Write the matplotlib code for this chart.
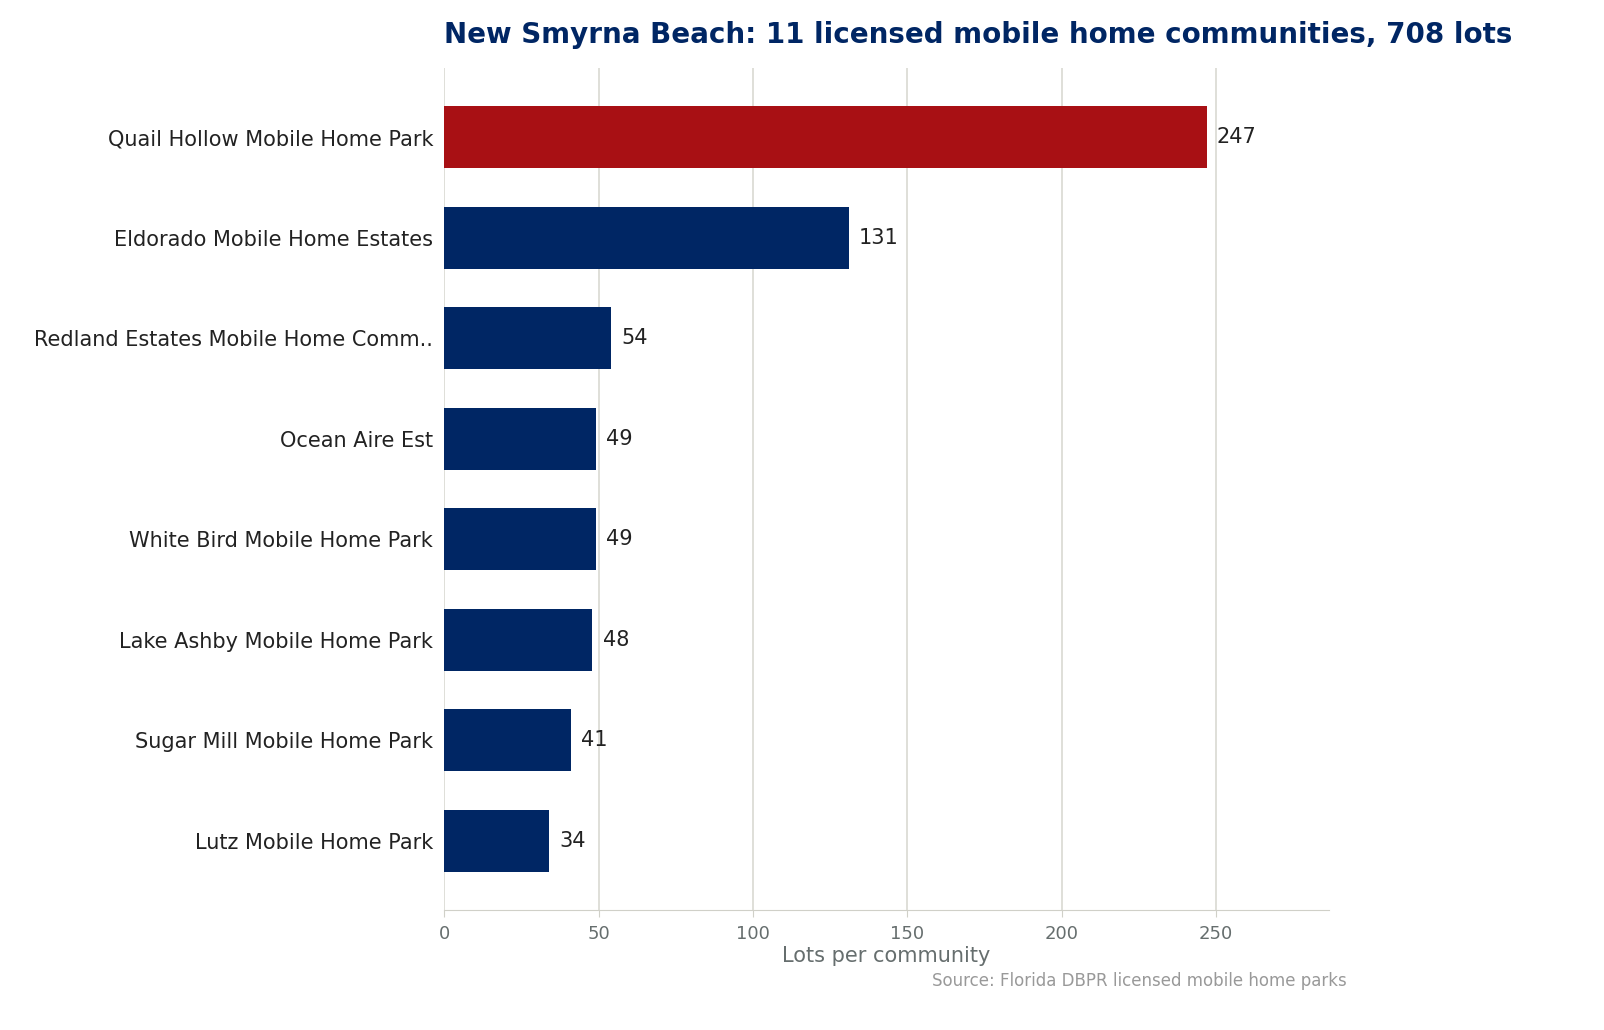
import matplotlib
matplotlib.use("Agg")
import matplotlib.pyplot as plt

names = ["Quail Hollow Mobile Home Park", "Eldorado Mobile Home Estates",
         "Redland Estates Mobile Home Comm..", "Ocean Aire Est",
         "White Bird Mobile Home Park", "Lake Ashby Mobile Home Park",
         "Sugar Mill Mobile Home Park", "Lutz Mobile Home Park"]
lots = [247, 131, 54, 49, 49, 48, 41, 34]
xticks = [0, 50, 100, 150, 200, 250]

navy = "#002664"
red = "#A81014"

fig = plt.figure(figsize=(16.04, 10.30), dpi=100)
ax = fig.add_axes([0.277, 0.1165, 0.5515, 0.8175])
y = list(range(len(names)))
colors = [red] + [navy] * (len(names) - 1)
ax.barh(y, lots, height=0.62, color=colors, zorder=3)
for yi, v in zip(y, lots):
    ax.text(v + 3.3, yi, str(v), va="center", ha="left", fontsize=15, color="#222222")
ax.set_yticks(y)
ax.set_yticklabels(names, fontsize=15, color="#222222")
ax.set_ylim(len(names) - 1 + 0.69, -0.69)
ax.set_xlim(0, 286.6)
ax.set_xticks(xticks)
ax.set_xticklabels([str(t) for t in xticks], fontsize=13, color="#666e6e")
ax.grid(axis="x", color="#dcdcd6", linewidth=1.3, zorder=0)
for s in ["top", "right", "left"]:
    ax.spines[s].set_visible(False)
ax.spines["bottom"].set_color("#d0d0c8")
ax.tick_params(axis="y", length=0, pad=8)
ax.tick_params(axis="x", length=5, color="#d0d0c8", pad=6)
ax.set_xlabel("Lots per community", fontsize=15, color="#666e6e", labelpad=2)
ax.set_title("New Smyrna Beach: 11 licensed mobile home communities, 708 lots",
             loc="left", fontsize=20, fontweight="bold", color=navy, pad=18)
fig.text(1347 / 1604, 1 - 981 / 1030, "Source: Florida DBPR licensed mobile home parks",
         ha="right", va="center", fontsize=12, color="#999999")
fig.savefig("out.png", dpi=100)
